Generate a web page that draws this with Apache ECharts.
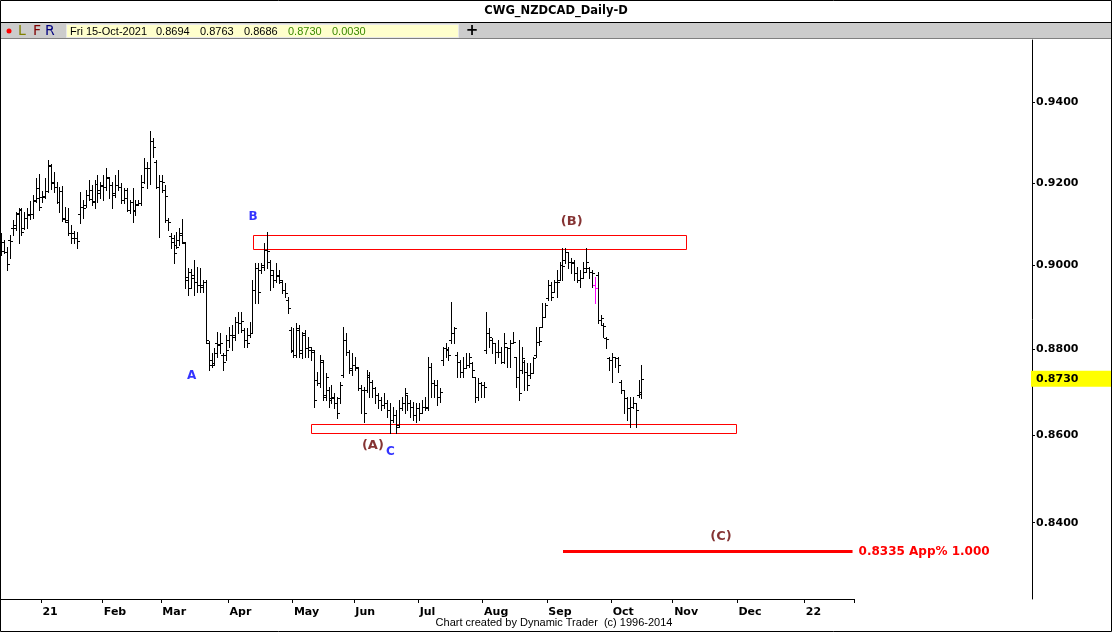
<!DOCTYPE html>
<html><head><meta charset="utf-8">
<script src="https://cdn.jsdelivr.net/npm/echarts@6/dist/echarts.min.js"></script>
<style>html,body{margin:0;padding:0;background:#fff;}#chart{width:1112px;height:632px;}</style>
</head><body><div id="chart"></div>
<script>
// ---------- data ----------
const startDate = '2020-12-14';   // first trading day shown
const slotCount = 292;            // trading-day slots along the time axis
const opens = [
.9061,.9034,.9032,.9061,.9090,.9097,.9124,.9134,.9090,.9114,
.9122,.9124,.9156,.9163,.9166,.9168,.9180,.9242,.9200,.9190,
.9153,.9180,.9114,.9104,.9078,.9078,.9065,.9124,.9141,.9146,
.9171,.9161,.9153,.9198,.9183,.9193,.9190,.9212,.9195,.9175,
.9195,.9190,.9158,.9163,.9134,.9153,.9134,.9148,.9151,.9202,
.9237,.9237,.9304,.9252,.9190,.9205,.9183,.9109,.9070,.9056,
.9049,.9061,.9073,.9053,.8971,.8983,.8969,.8959,.8952,.8952,
.8959,.8814,.8774,.8767,.8814,.8809,.8786,.8786,.8821,.8833,
.8833,.8864,.8861,.8845,.8821,.8833,.8838,.8940,.8993,.8988,
.9000,.9036,.9007,.8976,.8964,.8974,.8959,.8940,.8916,.8845,
.8798,.8786,.8845,.8798,.8833,.8802,.8798,.8793,.8727,.8720,
.8769,.8692,.8704,.8685,.8685,.8674,.8685,.8739,.8821,.8793,
.8755,.8762,.8755,.8709,.8704,.8704,.8734,.8723,.8709,.8692,
.8681,.8669,.8674,.8657,.8634,.8646,.8623,.8662,.8674,.8692,
.8674,.8664,.8646,.8662,.8650,.8664,.8662,.8758,.8720,.8716,
.8688,.8774,.8802,.8798,.8821,.8838,.8786,.8769,.8746,.8755,
.8762,.8767,.8734,.8688,.8720,.8716,.8798,.8838,.8821,.8814,
.8793,.8793,.8769,.8805,.8802,.8814,.8781,.8734,.8751,.8769,
.8746,.8739,.8744,.8786,.8816,.8852,.8876,.8921,.8952,.8935,
.8959,.8964,.9000,.9012,.9032,.9007,.9007,.8981,.8964,.8969,
.8993,.8993,.8983,.8952,.8976,.8869,.8857,.8826,.8779,.8774,
.8781,.8779,.8723,.8704,.8685,.8662,.8664,.8674,.8692,.8694];
const highs = [
.9078,.9061,.9044,.9073,.9109,.9129,.9139,.9139,.9129,.9139,
.9156,.9171,.9212,.9222,.9180,.9212,.9257,.9247,.9227,.9202,
.9190,.9193,.9141,.9139,.9097,.9082,.9080,.9178,.9158,.9183,
.9207,.9195,.9207,.9220,.9202,.9220,.9237,.9215,.9202,.9220,
.9232,.9200,.9188,.9188,.9158,.9188,.9158,.9158,.9220,.9262,
.9252,.9329,.9312,.9257,.9220,.9220,.9195,.9114,.9078,.9073,
.9080,.9090,.9112,.9056,.8993,.8991,.9012,.8995,.8993,.8964,
.8964,.8819,.8791,.8802,.8840,.8838,.8791,.8833,.8852,.8857,
.8876,.8888,.8888,.8850,.8850,.8864,.8964,.9005,.9005,.9005,
.9053,.9080,.9012,.8988,.9005,.8988,.8964,.8957,.8923,.8852,
.8850,.8861,.8857,.8840,.8845,.8828,.8805,.8798,.8746,.8786,
.8774,.8744,.8711,.8716,.8697,.8688,.8723,.8852,.8838,.8798,
.8791,.8781,.8758,.8716,.8711,.8751,.8746,.8727,.8711,.8697,
.8688,.8697,.8681,.8674,.8664,.8657,.8681,.8688,.8709,.8692,
.8681,.8676,.8674,.8674,.8681,.8688,.8781,.8767,.8727,.8727,
.8709,.8805,.8814,.8805,.8911,.8852,.8793,.8774,.8781,.8791,
.8791,.8769,.8734,.8732,.8723,.8723,.8888,.8850,.8826,.8814,
.8821,.8805,.8838,.8805,.8821,.8840,.8781,.8821,.8805,.8774,
.8767,.8767,.8781,.8852,.8852,.8909,.8909,.8964,.8959,.8964,
.8988,.9007,.9041,.9041,.9032,.9017,.9012,.8995,.8988,.9007,
.9041,.8995,.8988,.8971,.8983,.8881,.8861,.8828,.8781,.8791,
.8781,.8781,.8727,.8704,.8688,.8688,.8688,.8674,.8727,.8763];
const lows = [
.9024,.9029,.8988,.9017,.9073,.9085,.9053,.9073,.9087,.9090,
.9112,.9114,.9153,.9134,.9153,.9163,.9178,.9185,.9178,.9151,
.9129,.9107,.9104,.9073,.9053,.9053,.9041,.9102,.9114,.9141,
.9158,.9146,.9139,.9153,.9163,.9158,.9183,.9163,.9139,.9166,
.9183,.9151,.9151,.9131,.9126,.9104,.9122,.9146,.9146,.9200,
.9188,.9198,.9264,.9188,.9068,.9178,.9104,.9085,.9041,.9005,
.9041,.9049,.9053,.8945,.8928,.8945,.8928,.8935,.8935,.8935,
.8814,.8751,.8758,.8762,.8781,.8791,.8751,.8774,.8805,.8798,
.8821,.8838,.8840,.8805,.8805,.8828,.8838,.8909,.8909,.8981,
.8988,.8993,.8940,.8947,.8959,.8957,.8933,.8923,.8885,.8793,
.8781,.8781,.8781,.8779,.8781,.8781,.8774,.8664,.8716,.8711,
.8681,.8681,.8664,.8674,.8662,.8639,.8674,.8734,.8786,.8744,
.8739,.8751,.8704,.8650,.8630,.8699,.8688,.8688,.8674,.8662,
.8657,.8662,.8641,.8604,.8630,.8604,.8618,.8657,.8650,.8657,
.8641,.8634,.8630,.8634,.8650,.8657,.8657,.8688,.8688,.8669,
.8676,.8762,.8781,.8774,.8814,.8814,.8734,.8734,.8734,.8755,
.8758,.8734,.8676,.8681,.8688,.8688,.8791,.8805,.8791,.8767,
.8781,.8767,.8767,.8758,.8758,.8814,.8711,.8681,.8744,.8704,
.8704,.8732,.8744,.8781,.8809,.8852,.8876,.8916,.8916,.8935,
.8923,.8964,.8964,.9005,.8993,.8981,.8964,.8959,.8947,.8969,
.8983,.8969,.8947,.8909,.8861,.8857,.8828,.8802,.8751,.8723,
.8758,.8746,.8697,.8650,.8634,.8618,.8662,.8618,.8688,.8686];
const closes = [
.9056,.9032,.9003,.9058,.9090,.9126,.9136,.9080,.9114,.9124,
.9124,.9158,.9188,.9141,.9165,.9180,.9245,.9202,.9190,.9153,
.9180,.9112,.9109,.9078,.9065,.9065,.9058,.9141,.9139,.9171,
.9183,.9156,.9198,.9175,.9195,.9190,.9215,.9195,.9171,.9195,
.9190,.9158,.9183,.9134,.9153,.9131,.9146,.9151,.9190,.9237,
.9237,.9304,.9289,.9190,.9205,.9202,.9168,.9104,.9065,.9029,
.9044,.9078,.9056,.8964,.8945,.8976,.8959,.8952,.8947,.8959,
.8821,.8762,.8762,.8791,.8812,.8814,.8769,.8798,.8833,.8828,
.8864,.8861,.8866,.8821,.8814,.8838,.8940,.8993,.8935,.8995,
.9036,.9035,.8988,.8964,.8976,.8964,.8940,.8933,.8897,.8795,
.8786,.8850,.8791,.8838,.8802,.8805,.8797,.8681,.8720,.8774,
.8688,.8734,.8681,.8688,.8674,.8650,.8716,.8821,.8793,.8751,
.8762,.8758,.8709,.8704,.8650,.8739,.8723,.8709,.8692,.8681,
.8669,.8674,.8657,.8634,.8646,.8618,.8662,.8674,.8697,.8674,
.8664,.8646,.8662,.8650,.8664,.8665,.8758,.8720,.8716,.8688,
.8699,.8802,.8800,.8786,.8838,.8850,.8769,.8746,.8755,.8762,
.8781,.8751,.8688,.8720,.8716,.8711,.8838,.8828,.8814,.8793,
.8793,.8769,.8814,.8802,.8814,.8816,.8734,.8697,.8779,.8746,
.8716,.8744,.8779,.8816,.8818,.8876,.8904,.8952,.8923,.8959,
.8960,.9000,.8998,.9032,.9007,.9005,.8981,.8964,.8969,.8983,
.9007,.8983,.8980,.8945,.8869,.8873,.8855,.8824,.8774,.8781,
.8779,.8762,.8704,.8685,.8662,.8664,.8674,.8657,.8700,.8730];
const highlightIndex = 203;                 // bar drawn in magenta
const priceTicks = [0.84, 0.86, 0.88, 0.90, 0.92, 0.94];
const yMinPrice = 0.8230, yMaxPrice = 0.9559;
// resistance / support zones
const zoneStart  = [86, 106];
const zoneEnd    = [234, 251];
const zoneTop    = [0.9073, 0.8624];
const zoneBottom = [0.9038, 0.8604];
// projection line
const projPrice = 0.8335, projStart = 192, projEnd = 291;
const projText = '0.8335 App% 1.000';
// wave labels
const waveNames  = ['A', 'B', '(A)', 'C', '(B)', '(C)'];
const waveIdx    = [65, 86, 127, 133, 195, 246];
const wavePrice  = [0.8737, 0.9117, 0.8574, 0.8561, 0.9104, 0.8368];
const waveColors = ['#0000ff', '#0000ff', '#660000', '#0000ff', '#660000', '#660000'];
const monthNames = ['Jan','Feb','Mar','Apr','May','Jun','Jul','Aug','Sep','Oct','Nov','Dec'];

// ---------- build ----------
const categories = [];
(function () {
  const p = startDate.split('-').map(Number);
  const d = new Date(Date.UTC(p[0], p[1] - 1, p[2]));
  while (categories.length < slotCount) {
    const wd = d.getUTCDay();
    if (wd !== 0 && wd !== 6) categories.push(d.toISOString().slice(0, 10));
    d.setUTCDate(d.getUTCDate() + 1);
  }
})();
const monthStart = categories.map((c, i) => i > 0 && c.slice(5, 7) !== categories[i - 1].slice(5, 7));
function monthLabel(c) {
  const m = +c.slice(5, 7);
  return m === 1 ? c.slice(2, 4) : monthNames[m - 1];
}
const ohlc = opens.map((o, i) => [i, o, highs[i], lows[i], closes[i]]);
const zones = zoneStart.map((s, k) => [s, zoneEnd[k], zoneTop[k], zoneBottom[k]]);
const last = opens.length - 1;
const lastDate = new Date(categories[last] + 'T00:00:00Z');
const dayNames = ['Sun','Mon','Tue','Wed','Thu','Fri','Sat'];
const headerDate = dayNames[lastDate.getUTCDay()] + ' ' + categories[last].slice(8, 10) + '-' +
  monthNames[lastDate.getUTCMonth()] + '-' + categories[last].slice(0, 4);
const lastChange = (closes[last] - closes[last - 1]).toFixed(4);

const AXFONT = 'DejaVu Sans';
const chart = echarts.init(document.getElementById('chart'), null, { renderer: 'canvas' });

const option = {
  animation: false,
  backgroundColor: '#ffffff',
  textStyle: { fontFamily: AXFONT },
  grid: { left: 0, top: 40, width: 854, height: 559, outerBoundsMode: 'none', containLabel: false },
  xAxis: {
    type: 'category', data: categories, boundaryGap: true,
    axisLine: { show: true, lineStyle: { color: '#000', width: 1 } },
    axisTick: { show: true, interval: (i) => monthStart[i], length: 4, lineStyle: { color: '#000' } },
    axisLabel: {
      interval: (i) => monthStart[i], formatter: (v) => monthLabel(v),
      color: '#000', fontWeight: 'bold', fontSize: 11, fontFamily: AXFONT, align: 'left', margin: 8
    },
    splitLine: { show: false }
  },
  yAxis: [{
    type: 'log', min: yMinPrice, max: yMaxPrice, position: 'right', offset: 178,
    axisLine: { show: true, lineStyle: { color: '#000', width: 1 } },
    axisTick: { show: true, customValues: priceTicks, length: 3, lineStyle: { color: '#000' } },
    axisLabel: { customValues: priceTicks, formatter: (v) => (+v).toFixed(4), color: '#000',
      fontWeight: 'bold', fontSize: 11, fontFamily: AXFONT, margin: 4 },
    splitLine: { show: false }
  }, {
    type: 'log', min: yMinPrice, max: yMaxPrice, position: 'right', offset: 178,
    axisLine: { show: false }, axisTick: { show: false }, splitLine: { show: false },
    axisLabel: { customValues: [closes[last]], formatter: (v) => (+v).toFixed(4), color: '#000',
      fontWeight: 'bold', fontSize: 11, fontFamily: AXFONT, margin: -1,
      backgroundColor: '#ffff00', padding: [2, 33, 2, 5], lineHeight: 12 },
    z: 10
  }],
  series: [{
    type: 'custom',
    xAxisIndex: 0, yAxisIndex: 0,
    data: zones,
    encode: { x: [0, 1], y: [2, 3] },
    itemStyle: { color: '#ff0000' },
    silent: true, z: 1,
    renderItem: function (params, api) {
      const p1 = api.coord([api.value(0), api.value(2)]);
      const p2 = api.coord([api.value(1), api.value(3)]);
      const x1 = Math.round(p1[0]) + 0.5, x2 = Math.round(p2[0]) + 0.5;
      const y1 = Math.round(p1[1]) + 0.5, y2 = Math.round(p2[1]) + 0.5;
      return { type: 'rect', shape: { x: x1, y: y1, width: x2 - x1, height: y2 - y1 },
        style: { fill: 'none', stroke: '#ff0000', lineWidth: 1 } };
    }
  }, {
    type: 'custom',
    xAxisIndex: 0, yAxisIndex: 0,
    data: ohlc,
    encode: { x: 0, y: [1, 2, 3, 4] },
    itemStyle: { color: '#000000' },
    z: 2,
    renderItem: function (params, api) {
      const i = api.value(0);
      const pO = api.coord([i, api.value(1)]);
      const pH = api.coord([i, api.value(2)]);
      const pL = api.coord([i, api.value(3)]);
      const pC = api.coord([i, api.value(4)]);
      const xp = Math.floor(pO[0]);
      const x = xp + 0.5;
      const color = i === highlightIndex ? '#ff00ff' : '#000000';
      const yO = Math.round(pO[1]) + 0.5, yC = Math.round(pC[1]) + 0.5;
      const yH = Math.round(pH[1]), yL = Math.round(pL[1]) + 1;
      const st = { stroke: color, lineWidth: 1 };
      return {
        type: 'group', children: [
          { type: 'line', shape: { x1: x, y1: yH, x2: x, y2: yL }, style: st },
          { type: 'line', shape: { x1: xp - 2, y1: yO, x2: xp, y2: yO }, style: st },
          { type: 'line', shape: { x1: xp + 1, y1: yC, x2: xp + 3, y2: yC }, style: st }
        ]
      };
    },
    markLine: {
      silent: true, symbol: ['none', 'none'],
      lineStyle: { color: '#ff0000', width: 3, type: 'solid' },
      label: { show: true, position: 'end', formatter: projText, color: '#ff0000',
        fontWeight: 'bold', fontSize: 12, fontFamily: AXFONT, distance: 6 },
      data: [[{ coord: [projStart, projPrice] }, { coord: [projEnd, projPrice] }]]
    }
  }, {
    type: 'scatter', xAxisIndex: 0, yAxisIndex: 0, symbolSize: 0, silent: true, z: 3,
    data: waveNames.map((n, k) => ({
      value: [waveIdx[k], wavePrice[k]],
      label: { show: true, position: 'inside', formatter: n, color: waveColors[k],
        fontWeight: 'bold', fontSize: n.length > 1 ? 13 : 12, fontFamily: AXFONT,
        textBorderWidth: 0, textShadowBlur: 0 }
    }))
  }],
  graphic: [
    { type: 'rect', shape: { x: 0.5, y: 0.5, width: 1111, height: 631 }, style: { fill: 'none', stroke: '#000', lineWidth: 1 }, z: 100 },
    { type: 'text', x: 556, y: 11, style: { text: 'CWG_NZDCAD_Daily-D', font: 'bold 11.5px "DejaVu Sans"', fill: '#000', align: 'center', verticalAlign: 'middle' } },
    { type: 'rect', shape: { x: 0, y: 23, width: 1112, height: 15 }, style: { fill: '#cccccc' } },
    { type: 'line', shape: { x1: 0, y1: 22.5, x2: 1112, y2: 22.5 }, style: { stroke: '#000', lineWidth: 1 } },
    { type: 'line', shape: { x1: 0, y1: 38.5, x2: 1112, y2: 38.5 }, style: { stroke: '#808080', lineWidth: 1 } },
    { type: 'circle', shape: { cx: 9, cy: 31, r: 2.5 }, style: { fill: '#ff0000' } },
    { type: 'text', x: 18, y: 31, style: { text: 'L', font: '14px "DejaVu Sans"', fill: '#808000', verticalAlign: 'middle' } },
    { type: 'text', x: 33, y: 31, style: { text: 'F', font: '14px "DejaVu Sans"', fill: '#800000', verticalAlign: 'middle' } },
    { type: 'text', x: 45, y: 31, style: { text: 'R', font: '14px "DejaVu Sans"', fill: '#000080', verticalAlign: 'middle' } },
    { type: 'rect', shape: { x: 66.5, y: 24.5, width: 392, height: 13 }, style: { fill: '#ffffcc', stroke: '#e8e8e8', lineWidth: 1 } },
    { type: 'text', x: 70, y: 31.5, style: { text: headerDate, font: '11px "Liberation Sans"', fill: '#000', verticalAlign: 'middle' } },
    { type: 'text', x: 156, y: 31.5, style: { text: opens[last].toFixed(4), font: '11px "Liberation Sans"', fill: '#000', verticalAlign: 'middle' } },
    { type: 'text', x: 200, y: 31.5, style: { text: highs[last].toFixed(4), font: '11px "Liberation Sans"', fill: '#000', verticalAlign: 'middle' } },
    { type: 'text', x: 244, y: 31.5, style: { text: lows[last].toFixed(4), font: '11px "Liberation Sans"', fill: '#000', verticalAlign: 'middle' } },
    { type: 'text', x: 288, y: 31.5, style: { text: closes[last].toFixed(4), font: '11px "Liberation Sans"', fill: '#3a8a00', verticalAlign: 'middle' } },
    { type: 'text', x: 332, y: 31.5, style: { text: lastChange, font: '11px "Liberation Sans"', fill: '#3a8a00', verticalAlign: 'middle' } },
    { type: 'text', x: 472, y: 31, style: { text: '+', font: 'bold 15px "DejaVu Sans"', fill: '#000', align: 'center', verticalAlign: 'middle' } },
    { type: 'text', x: 554, y: 623, style: { text: 'Chart created by Dynamic Trader  (c) 1996-2014', font: '11px "Liberation Sans"', fill: '#000', align: 'center', verticalAlign: 'middle' } }
  ]
};
chart.setOption(option);
</script>
</body></html>
